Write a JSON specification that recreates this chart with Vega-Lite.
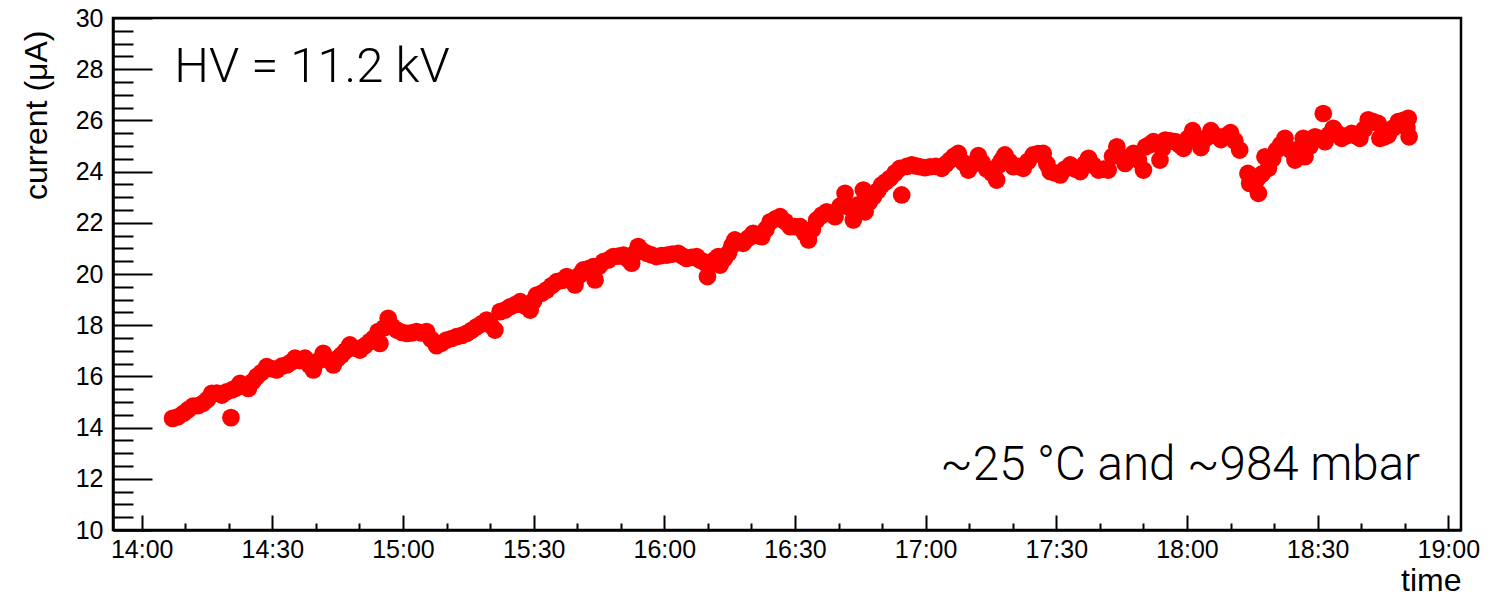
{
  "$schema": "https://vega.github.io/schema/vega-lite/v6.json",
  "width": 1348,
  "height": 512,
  "autosize": "none",
  "padding": {"left": 113, "top": 18, "right": 49, "bottom": 66},
  "background": "white",
  "config": {
    "view": {"stroke": "black", "strokeWidth": 2.5},
    "font": "Liberation Sans",
    "axis": {
      "grid": false,
      "domainColor": "black",
      "domainWidth": 2.5,
      "tickColor": "black",
      "tickWidth": 2,
      "labelColor": "black",
      "labelFont": "Liberation Sans",
      "labelFontSize": 25,
      "titleColor": "black",
      "titleFont": "Liberation Sans",
      "titleFontWeight": "normal"
    }
  },
  "data": {
    "values": [
      {"time": "2000-01-01T14:07:06", "current": 14.36},
      {"time": "2000-01-01T14:08:20", "current": 14.42},
      {"time": "2000-01-01T14:09:36", "current": 14.56},
      {"time": "2000-01-01T14:10:40", "current": 14.70},
      {"time": "2000-01-01T14:11:48", "current": 14.84},
      {"time": "2000-01-01T14:13:00", "current": 14.86},
      {"time": "2000-01-01T14:14:06", "current": 14.95},
      {"time": "2000-01-01T14:15:06", "current": 15.10},
      {"time": "2000-01-01T14:16:06", "current": 15.34},
      {"time": "2000-01-01T14:17:15", "current": 15.35},
      {"time": "2000-01-01T14:18:24", "current": 15.27},
      {"time": "2000-01-01T14:19:30", "current": 15.40},
      {"time": "2000-01-01T14:20:30", "current": 14.39},
      {"time": "2000-01-01T14:20:42", "current": 15.47},
      {"time": "2000-01-01T14:21:40", "current": 15.55},
      {"time": "2000-01-01T14:22:36", "current": 15.73},
      {"time": "2000-01-01T14:23:30", "current": 15.62},
      {"time": "2000-01-01T14:24:30", "current": 15.53},
      {"time": "2000-01-01T14:25:30", "current": 15.80},
      {"time": "2000-01-01T14:26:24", "current": 15.99},
      {"time": "2000-01-01T14:27:30", "current": 16.15},
      {"time": "2000-01-01T14:28:42", "current": 16.38},
      {"time": "2000-01-01T14:29:50", "current": 16.30},
      {"time": "2000-01-01T14:31:00", "current": 16.25},
      {"time": "2000-01-01T14:32:10", "current": 16.40},
      {"time": "2000-01-01T14:33:18", "current": 16.45},
      {"time": "2000-01-01T14:34:15", "current": 16.55},
      {"time": "2000-01-01T14:35:12", "current": 16.71},
      {"time": "2000-01-01T14:36:20", "current": 16.62},
      {"time": "2000-01-01T14:37:30", "current": 16.71},
      {"time": "2000-01-01T14:38:30", "current": 16.45},
      {"time": "2000-01-01T14:39:24", "current": 16.25},
      {"time": "2000-01-01T14:40:30", "current": 16.60},
      {"time": "2000-01-01T14:41:42", "current": 16.90},
      {"time": "2000-01-01T14:42:50", "current": 16.65},
      {"time": "2000-01-01T14:44:00", "current": 16.45},
      {"time": "2000-01-01T14:45:00", "current": 16.70},
      {"time": "2000-01-01T14:45:54", "current": 16.84},
      {"time": "2000-01-01T14:46:50", "current": 17.00},
      {"time": "2000-01-01T14:47:48", "current": 17.23},
      {"time": "2000-01-01T14:49:00", "current": 17.10},
      {"time": "2000-01-01T14:50:06", "current": 17.03},
      {"time": "2000-01-01T14:51:15", "current": 17.20},
      {"time": "2000-01-01T14:52:24", "current": 17.36},
      {"time": "2000-01-01T14:53:20", "current": 17.50},
      {"time": "2000-01-01T14:54:18", "current": 17.75},
      {"time": "2000-01-01T14:54:42", "current": 17.29},
      {"time": "2000-01-01T14:55:40", "current": 17.90},
      {"time": "2000-01-01T14:56:36", "current": 18.27},
      {"time": "2000-01-01T14:57:30", "current": 17.95},
      {"time": "2000-01-01T14:58:36", "current": 17.81},
      {"time": "2000-01-01T14:59:45", "current": 17.72},
      {"time": "2000-01-01T15:00:54", "current": 17.68},
      {"time": "2000-01-01T15:02:00", "current": 17.70},
      {"time": "2000-01-01T15:03:06", "current": 17.75},
      {"time": "2000-01-01T15:04:15", "current": 17.70},
      {"time": "2000-01-01T15:05:24", "current": 17.75},
      {"time": "2000-01-01T15:06:30", "current": 17.45},
      {"time": "2000-01-01T15:07:42", "current": 17.20},
      {"time": "2000-01-01T15:08:50", "current": 17.30},
      {"time": "2000-01-01T15:10:00", "current": 17.42},
      {"time": "2000-01-01T15:11:10", "current": 17.48},
      {"time": "2000-01-01T15:12:18", "current": 17.55},
      {"time": "2000-01-01T15:13:30", "current": 17.60},
      {"time": "2000-01-01T15:14:36", "current": 17.68},
      {"time": "2000-01-01T15:15:45", "current": 17.80},
      {"time": "2000-01-01T15:16:54", "current": 17.94},
      {"time": "2000-01-01T15:18:00", "current": 18.05},
      {"time": "2000-01-01T15:19:12", "current": 18.20},
      {"time": "2000-01-01T15:20:10", "current": 18.00},
      {"time": "2000-01-01T15:21:06", "current": 17.81},
      {"time": "2000-01-01T15:22:18", "current": 18.53},
      {"time": "2000-01-01T15:23:30", "current": 18.60},
      {"time": "2000-01-01T15:24:36", "current": 18.72},
      {"time": "2000-01-01T15:25:45", "current": 18.80},
      {"time": "2000-01-01T15:26:54", "current": 18.92},
      {"time": "2000-01-01T15:28:00", "current": 18.75},
      {"time": "2000-01-01T15:29:12", "current": 18.59},
      {"time": "2000-01-01T15:30:00", "current": 18.95},
      {"time": "2000-01-01T15:30:42", "current": 19.18},
      {"time": "2000-01-01T15:31:50", "current": 19.25},
      {"time": "2000-01-01T15:33:00", "current": 19.38},
      {"time": "2000-01-01T15:34:10", "current": 19.55},
      {"time": "2000-01-01T15:35:18", "current": 19.70},
      {"time": "2000-01-01T15:36:30", "current": 19.75},
      {"time": "2000-01-01T15:37:36", "current": 19.90},
      {"time": "2000-01-01T15:38:30", "current": 19.75},
      {"time": "2000-01-01T15:39:30", "current": 19.57},
      {"time": "2000-01-01T15:40:30", "current": 19.95},
      {"time": "2000-01-01T15:41:24", "current": 20.16},
      {"time": "2000-01-01T15:42:30", "current": 20.20},
      {"time": "2000-01-01T15:43:42", "current": 20.29},
      {"time": "2000-01-01T15:44:06", "current": 19.77},
      {"time": "2000-01-01T15:45:00", "current": 20.30},
      {"time": "2000-01-01T15:46:00", "current": 20.48},
      {"time": "2000-01-01T15:47:10", "current": 20.55},
      {"time": "2000-01-01T15:48:18", "current": 20.68},
      {"time": "2000-01-01T15:49:30", "current": 20.70},
      {"time": "2000-01-01T15:50:36", "current": 20.74},
      {"time": "2000-01-01T15:51:30", "current": 20.60},
      {"time": "2000-01-01T15:52:30", "current": 20.42},
      {"time": "2000-01-01T15:53:15", "current": 20.80},
      {"time": "2000-01-01T15:54:00", "current": 21.07},
      {"time": "2000-01-01T15:55:00", "current": 20.90},
      {"time": "2000-01-01T15:56:00", "current": 20.81},
      {"time": "2000-01-01T15:57:00", "current": 20.75},
      {"time": "2000-01-01T15:58:12", "current": 20.68},
      {"time": "2000-01-01T15:59:20", "current": 20.72},
      {"time": "2000-01-01T16:00:36", "current": 20.74},
      {"time": "2000-01-01T16:01:50", "current": 20.78},
      {"time": "2000-01-01T16:03:12", "current": 20.81},
      {"time": "2000-01-01T16:04:10", "current": 20.70},
      {"time": "2000-01-01T16:05:06", "current": 20.61},
      {"time": "2000-01-01T16:06:15", "current": 20.65},
      {"time": "2000-01-01T16:07:24", "current": 20.68},
      {"time": "2000-01-01T16:08:10", "current": 20.55},
      {"time": "2000-01-01T16:09:00", "current": 20.48},
      {"time": "2000-01-01T16:09:54", "current": 19.90},
      {"time": "2000-01-01T16:10:30", "current": 20.40},
      {"time": "2000-01-01T16:11:30", "current": 20.55},
      {"time": "2000-01-01T16:12:24", "current": 20.68},
      {"time": "2000-01-01T16:12:48", "current": 20.35},
      {"time": "2000-01-01T16:13:45", "current": 20.60},
      {"time": "2000-01-01T16:14:42", "current": 20.81},
      {"time": "2000-01-01T16:15:30", "current": 21.10},
      {"time": "2000-01-01T16:16:12", "current": 21.33},
      {"time": "2000-01-01T16:17:10", "current": 21.25},
      {"time": "2000-01-01T16:18:06", "current": 21.20},
      {"time": "2000-01-01T16:19:15", "current": 21.40},
      {"time": "2000-01-01T16:20:24", "current": 21.59},
      {"time": "2000-01-01T16:21:25", "current": 21.50},
      {"time": "2000-01-01T16:22:24", "current": 21.46},
      {"time": "2000-01-01T16:23:20", "current": 21.75},
      {"time": "2000-01-01T16:24:18", "current": 22.04},
      {"time": "2000-01-01T16:25:30", "current": 22.15},
      {"time": "2000-01-01T16:26:36", "current": 22.24},
      {"time": "2000-01-01T16:27:45", "current": 22.05},
      {"time": "2000-01-01T16:28:54", "current": 21.85},
      {"time": "2000-01-01T16:30:00", "current": 21.85},
      {"time": "2000-01-01T16:31:12", "current": 21.85},
      {"time": "2000-01-01T16:32:10", "current": 21.60},
      {"time": "2000-01-01T16:33:06", "current": 21.33},
      {"time": "2000-01-01T16:34:00", "current": 21.75},
      {"time": "2000-01-01T16:35:00", "current": 22.11},
      {"time": "2000-01-01T16:36:10", "current": 22.30},
      {"time": "2000-01-01T16:37:18", "current": 22.43},
      {"time": "2000-01-01T16:38:15", "current": 22.35},
      {"time": "2000-01-01T16:39:12", "current": 22.24},
      {"time": "2000-01-01T16:40:20", "current": 22.65},
      {"time": "2000-01-01T16:41:30", "current": 23.15},
      {"time": "2000-01-01T16:42:30", "current": 22.60},
      {"time": "2000-01-01T16:43:24", "current": 22.11},
      {"time": "2000-01-01T16:44:30", "current": 22.70},
      {"time": "2000-01-01T16:45:42", "current": 23.28},
      {"time": "2000-01-01T16:46:06", "current": 22.43},
      {"time": "2000-01-01T16:47:00", "current": 22.80},
      {"time": "2000-01-01T16:48:00", "current": 23.02},
      {"time": "2000-01-01T16:49:00", "current": 23.25},
      {"time": "2000-01-01T16:49:54", "current": 23.48},
      {"time": "2000-01-01T16:50:50", "current": 23.60},
      {"time": "2000-01-01T16:51:48", "current": 23.74},
      {"time": "2000-01-01T16:53:00", "current": 23.95},
      {"time": "2000-01-01T16:54:06", "current": 24.13},
      {"time": "2000-01-01T16:54:30", "current": 23.09},
      {"time": "2000-01-01T16:55:40", "current": 24.20},
      {"time": "2000-01-01T16:56:48", "current": 24.26},
      {"time": "2000-01-01T16:57:45", "current": 24.22},
      {"time": "2000-01-01T16:58:42", "current": 24.19},
      {"time": "2000-01-01T16:59:50", "current": 24.15},
      {"time": "2000-01-01T17:01:00", "current": 24.19},
      {"time": "2000-01-01T17:02:20", "current": 24.20},
      {"time": "2000-01-01T17:03:42", "current": 24.13},
      {"time": "2000-01-01T17:04:40", "current": 24.30},
      {"time": "2000-01-01T17:05:36", "current": 24.45},
      {"time": "2000-01-01T17:06:30", "current": 24.60},
      {"time": "2000-01-01T17:07:30", "current": 24.71},
      {"time": "2000-01-01T17:08:40", "current": 24.35},
      {"time": "2000-01-01T17:09:48", "current": 24.06},
      {"time": "2000-01-01T17:11:00", "current": 24.30},
      {"time": "2000-01-01T17:12:06", "current": 24.62},
      {"time": "2000-01-01T17:13:00", "current": 24.35},
      {"time": "2000-01-01T17:14:00", "current": 24.10},
      {"time": "2000-01-01T17:15:10", "current": 23.95},
      {"time": "2000-01-01T17:16:18", "current": 23.67},
      {"time": "2000-01-01T17:16:48", "current": 24.26},
      {"time": "2000-01-01T17:17:30", "current": 24.45},
      {"time": "2000-01-01T17:18:12", "current": 24.65},
      {"time": "2000-01-01T17:19:10", "current": 24.40},
      {"time": "2000-01-01T17:20:06", "current": 24.19},
      {"time": "2000-01-01T17:21:15", "current": 24.20},
      {"time": "2000-01-01T17:22:24", "current": 24.13},
      {"time": "2000-01-01T17:23:30", "current": 24.40},
      {"time": "2000-01-01T17:24:42", "current": 24.65},
      {"time": "2000-01-01T17:25:50", "current": 24.70},
      {"time": "2000-01-01T17:27:00", "current": 24.71},
      {"time": "2000-01-01T17:27:50", "current": 24.30},
      {"time": "2000-01-01T17:28:36", "current": 24.00},
      {"time": "2000-01-01T17:29:45", "current": 23.95},
      {"time": "2000-01-01T17:30:54", "current": 23.87},
      {"time": "2000-01-01T17:32:00", "current": 24.10},
      {"time": "2000-01-01T17:33:12", "current": 24.26},
      {"time": "2000-01-01T17:34:20", "current": 24.10},
      {"time": "2000-01-01T17:35:30", "current": 24.00},
      {"time": "2000-01-01T17:36:30", "current": 24.30},
      {"time": "2000-01-01T17:37:24", "current": 24.52},
      {"time": "2000-01-01T17:38:30", "current": 24.25},
      {"time": "2000-01-01T17:39:42", "current": 24.06},
      {"time": "2000-01-01T17:40:50", "current": 24.10},
      {"time": "2000-01-01T17:41:54", "current": 24.06},
      {"time": "2000-01-01T17:42:55", "current": 24.60},
      {"time": "2000-01-01T17:43:54", "current": 24.97},
      {"time": "2000-01-01T17:44:50", "current": 24.60},
      {"time": "2000-01-01T17:45:48", "current": 24.32},
      {"time": "2000-01-01T17:46:45", "current": 24.50},
      {"time": "2000-01-01T17:47:42", "current": 24.71},
      {"time": "2000-01-01T17:48:50", "current": 24.45},
      {"time": "2000-01-01T17:50:00", "current": 24.06},
      {"time": "2000-01-01T17:50:30", "current": 24.97},
      {"time": "2000-01-01T17:51:25", "current": 25.05},
      {"time": "2000-01-01T17:52:18", "current": 25.17},
      {"time": "2000-01-01T17:53:48", "current": 24.45},
      {"time": "2000-01-01T17:54:20", "current": 24.90},
      {"time": "2000-01-01T17:55:00", "current": 25.23},
      {"time": "2000-01-01T17:56:10", "current": 25.20},
      {"time": "2000-01-01T17:57:18", "current": 25.17},
      {"time": "2000-01-01T17:58:15", "current": 25.05},
      {"time": "2000-01-01T17:59:12", "current": 24.91},
      {"time": "2000-01-01T18:00:15", "current": 25.30},
      {"time": "2000-01-01T18:01:18", "current": 25.60},
      {"time": "2000-01-01T18:02:15", "current": 25.25},
      {"time": "2000-01-01T18:03:12", "current": 24.94},
      {"time": "2000-01-01T18:04:20", "current": 25.30},
      {"time": "2000-01-01T18:05:30", "current": 25.60},
      {"time": "2000-01-01T18:06:40", "current": 25.40},
      {"time": "2000-01-01T18:07:48", "current": 25.25},
      {"time": "2000-01-01T18:08:55", "current": 25.40},
      {"time": "2000-01-01T18:10:00", "current": 25.52},
      {"time": "2000-01-01T18:11:00", "current": 25.20},
      {"time": "2000-01-01T18:12:06", "current": 24.84},
      {"time": "2000-01-01T18:14:00", "current": 23.93},
      {"time": "2000-01-01T18:14:24", "current": 23.54},
      {"time": "2000-01-01T18:15:10", "current": 23.75},
      {"time": "2000-01-01T18:16:00", "current": 23.67},
      {"time": "2000-01-01T18:16:24", "current": 23.15},
      {"time": "2000-01-01T18:17:10", "current": 23.90},
      {"time": "2000-01-01T18:17:54", "current": 24.58},
      {"time": "2000-01-01T18:18:42", "current": 24.13},
      {"time": "2000-01-01T18:19:40", "current": 24.50},
      {"time": "2000-01-01T18:20:36", "current": 24.84},
      {"time": "2000-01-01T18:21:30", "current": 25.05},
      {"time": "2000-01-01T18:22:30", "current": 25.30},
      {"time": "2000-01-01T18:23:40", "current": 24.85},
      {"time": "2000-01-01T18:24:48", "current": 24.45},
      {"time": "2000-01-01T18:25:45", "current": 24.90},
      {"time": "2000-01-01T18:26:42", "current": 25.30},
      {"time": "2000-01-01T18:27:06", "current": 24.58},
      {"time": "2000-01-01T18:28:15", "current": 25.00},
      {"time": "2000-01-01T18:29:24", "current": 25.36},
      {"time": "2000-01-01T18:30:30", "current": 25.30},
      {"time": "2000-01-01T18:31:18", "current": 26.27},
      {"time": "2000-01-01T18:31:42", "current": 25.17},
      {"time": "2000-01-01T18:32:40", "current": 25.45},
      {"time": "2000-01-01T18:33:36", "current": 25.69},
      {"time": "2000-01-01T18:34:30", "current": 25.50},
      {"time": "2000-01-01T18:35:30", "current": 25.30},
      {"time": "2000-01-01T18:36:40", "current": 25.40},
      {"time": "2000-01-01T18:37:48", "current": 25.49},
      {"time": "2000-01-01T18:38:45", "current": 25.40},
      {"time": "2000-01-01T18:39:42", "current": 25.30},
      {"time": "2000-01-01T18:40:40", "current": 25.65},
      {"time": "2000-01-01T18:41:36", "current": 26.02},
      {"time": "2000-01-01T18:42:45", "current": 25.95},
      {"time": "2000-01-01T18:43:54", "current": 25.88},
      {"time": "2000-01-01T18:44:18", "current": 25.30},
      {"time": "2000-01-01T18:45:15", "current": 25.35},
      {"time": "2000-01-01T18:46:12", "current": 25.43},
      {"time": "2000-01-01T18:47:20", "current": 25.70},
      {"time": "2000-01-01T18:48:30", "current": 25.95},
      {"time": "2000-01-01T18:49:40", "current": 26.00},
      {"time": "2000-01-01T18:50:30", "current": 25.70},
      {"time": "2000-01-01T18:50:48", "current": 26.08},
      {"time": "2000-01-01T18:51:00", "current": 25.36}
    ]
  },
  "layer": [
    {
      "mark": {"type": "circle", "size": 314, "color": "#ff0000", "opacity": 1},
      "encoding": {
        "x": {
          "field": "time",
          "type": "temporal",
          "scale": {
            "domain": [
              {"year": 2000, "month": 1, "date": 1, "hours": 13, "minutes": 53, "seconds": 25},
              {"year": 2000, "month": 1, "date": 1, "hours": 19, "minutes": 2, "seconds": 55}
            ],
            "nice": false
          },
          "axis": {
            "orient": "bottom",
            "format": "%H:%M",
            "values": [
              {"year": 2000, "month": 1, "date": 1, "hours": 14, "minutes": 0},
              {"year": 2000, "month": 1, "date": 1, "hours": 14, "minutes": 30},
              {"year": 2000, "month": 1, "date": 1, "hours": 15, "minutes": 0},
              {"year": 2000, "month": 1, "date": 1, "hours": 15, "minutes": 30},
              {"year": 2000, "month": 1, "date": 1, "hours": 16, "minutes": 0},
              {"year": 2000, "month": 1, "date": 1, "hours": 16, "minutes": 30},
              {"year": 2000, "month": 1, "date": 1, "hours": 17, "minutes": 0},
              {"year": 2000, "month": 1, "date": 1, "hours": 17, "minutes": 30},
              {"year": 2000, "month": 1, "date": 1, "hours": 18, "minutes": 0},
              {"year": 2000, "month": 1, "date": 1, "hours": 18, "minutes": 30},
              {"year": 2000, "month": 1, "date": 1, "hours": 19, "minutes": 0}
            ],
            "tickSize": -15,
            "labelPadding": 22,
            "labelFlush": false,
            "labelOverlap": false,
            "title": "time",
            "titleFontSize": 32,
            "titleAnchor": "end",
            "titleAlign": "right",
            "titleBaseline": "alphabetic",
            "titleX": 1348,
            "titleY": 60
          }
        },
        "y": {
          "field": "current",
          "type": "quantitative",
          "scale": {"domain": [10, 30], "nice": false, "zero": false},
          "axis": {
            "orient": "left",
            "values": [10, 12, 14, 16, 18, 20, 22, 24, 26, 28, 30],
            "tickSize": -39,
            "labelPadding": 49,
            "labelFlush": false,
            "labelOverlap": false,
            "title": "current (μA)",
            "titleFontSize": 32,
            "titleAngle": -90,
            "titleAnchor": "end",
            "titleAlign": "right",
            "titleBaseline": "alphabetic",
            "titleX": -67,
            "titleY": 12
          }
        }
      }
    },
    {
      "data": {"values": [{"label": "HV = 11.2 kV"}]},
      "mark": {
        "type": "text",
        "align": "left",
        "baseline": "alphabetic",
        "font": "Roboto",
        "fontWeight": 300,
        "fontSize": 49,
        "color": "black"
      },
      "encoding": {
        "text": {"field": "label"},
        "x": {
          "datum": {"year": 2000, "month": 1, "date": 1, "hours": 14, "minutes": 7, "seconds": 30},
          "type": "temporal",
          "axis": {
            "orient": "bottom",
            "values": [
              {"year": 2000, "month": 1, "date": 1, "hours": 14, "minutes": 10},
              {"year": 2000, "month": 1, "date": 1, "hours": 14, "minutes": 20},
              {"year": 2000, "month": 1, "date": 1, "hours": 14, "minutes": 40},
              {"year": 2000, "month": 1, "date": 1, "hours": 14, "minutes": 50},
              {"year": 2000, "month": 1, "date": 1, "hours": 15, "minutes": 10},
              {"year": 2000, "month": 1, "date": 1, "hours": 15, "minutes": 20},
              {"year": 2000, "month": 1, "date": 1, "hours": 15, "minutes": 40},
              {"year": 2000, "month": 1, "date": 1, "hours": 15, "minutes": 50},
              {"year": 2000, "month": 1, "date": 1, "hours": 16, "minutes": 10},
              {"year": 2000, "month": 1, "date": 1, "hours": 16, "minutes": 20},
              {"year": 2000, "month": 1, "date": 1, "hours": 16, "minutes": 40},
              {"year": 2000, "month": 1, "date": 1, "hours": 16, "minutes": 50},
              {"year": 2000, "month": 1, "date": 1, "hours": 17, "minutes": 10},
              {"year": 2000, "month": 1, "date": 1, "hours": 17, "minutes": 20},
              {"year": 2000, "month": 1, "date": 1, "hours": 17, "minutes": 40},
              {"year": 2000, "month": 1, "date": 1, "hours": 17, "minutes": 50},
              {"year": 2000, "month": 1, "date": 1, "hours": 18, "minutes": 10},
              {"year": 2000, "month": 1, "date": 1, "hours": 18, "minutes": 20},
              {"year": 2000, "month": 1, "date": 1, "hours": 18, "minutes": 40},
              {"year": 2000, "month": 1, "date": 1, "hours": 18, "minutes": 50}
            ],
            "tickSize": -7,
            "labels": false,
            "domain": false,
            "title": null
          }
        },
        "y": {
          "datum": 27.49,
          "type": "quantitative",
          "axis": {
            "orient": "left",
            "values": [10.5, 11, 11.5, 12.5, 13, 13.5, 14.5, 15, 15.5, 16.5, 17, 17.5, 18.5, 19, 19.5, 20.5, 21, 21.5, 22.5, 23, 23.5, 24.5, 25, 25.5, 26.5, 27, 27.5, 28.5, 29, 29.5],
            "tickSize": -20,
            "labels": false,
            "domain": false,
            "title": null
          }
        }
      }
    },
    {
      "data": {"values": [{"label": "~25 °C and ~984 mbar"}]},
      "mark": {
        "type": "text",
        "align": "right",
        "baseline": "alphabetic",
        "font": "Roboto",
        "fontWeight": 300,
        "fontSize": 47.5,
        "color": "black"
      },
      "encoding": {
        "text": {"field": "label"},
        "x": {
          "datum": {"year": 2000, "month": 1, "date": 1, "hours": 18, "minutes": 53, "seconds": 32},
          "type": "temporal",
          "axis": null
        },
        "y": {"datum": 11.95, "type": "quantitative", "axis": null}
      }
    }
  ],
  "resolve": {"axis": {"x": "independent", "y": "independent"}}
}
